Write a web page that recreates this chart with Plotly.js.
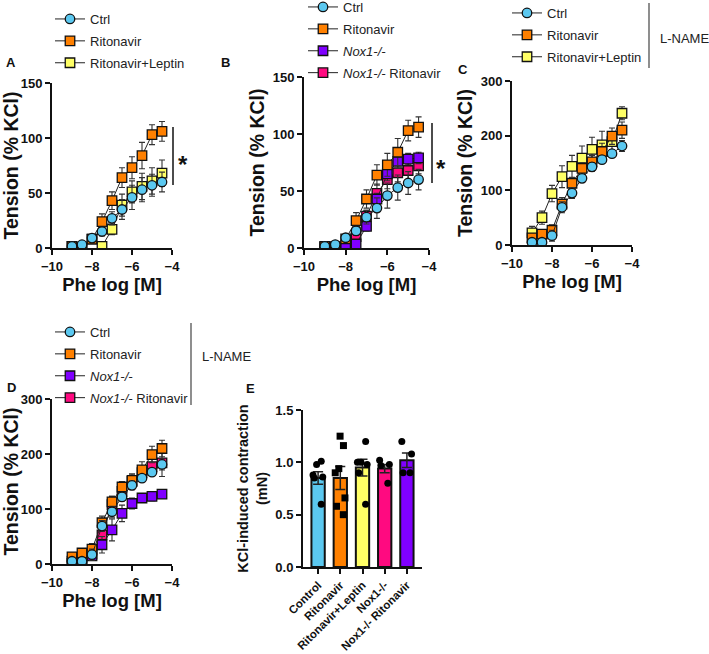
<!DOCTYPE html>
<html>
<head>
<meta charset="utf-8">
<script src="https://cdn.plot.ly/plotly-3.0.1.min.js"></script>
<style>
  html, body { margin: 0; padding: 0; background: #fff; }
  #fig { width: 709px; height: 654px; }
</style>
</head>
<body>
<div id="fig"></div>
<script>
// concentration steps (log M)
const doses = [-9, -8.5, -8, -7.5, -7, -6.5, -6, -5.5, -5, -4.5];

// panel A
const aCtrl = [1.5, 3, 9, 15, 27, 35, 46, 53, 57, 60];
const aCtrlErr = [1, 1, 2, 4, 6, 9, 11, 11, 10, 9];
const aRit = [1.5, 0.5, 8, 24, 43, 64, 73, 84, 103, 106];
const aRitErr = [1, 1, 3, 7, 8, 9, 10, 12, 9, 9];
const aLep = [1.5, 0.5, 8, 1.5, 17, 39, 51, 56, 61, 68];
const aLepErr = [0.5, 0.5, 2, 2, 5, 10, 10, 12, 12, 12];

// panel B
const bNox = [1, 1, 1, 3.5, 19, 43, 65, 76, 78, 79];
const bNoxErr = [1, 1, 1, 3, 4, 5, 6, 6, 5, 5];
const bNoxRit = [1, 1, 2, 10, 28, 48, 60, 66, 68, 72];
const bNoxRitErr = [1, 1, 2, 4, 5, 8, 8, 8, 8, 7];

// panel C (L-NAME)
const cCtrl = [5, 5, 17, 69, 95, 122, 143, 156, 167, 181];
const cCtrlErr = [3, 3, 10, 10, 10, 7, 8, 6, 6, 10];
const cRit = [13, 20, 27, 75, 113, 140, 152, 171, 199, 210];
const cRitErr = [5, 5, 10, 12, 10, 10, 12, 15, 15, 15];
const cLep = [22, 50, 94, 125, 144, 159, 175, 183, 189, 241];
const cLepErr = [12, 12, 15, 20, 20, 22, 22, 25, 15, 12];

// panel D (L-NAME)
const dNox = [1, 3, 15, 35, 62, 92, 110, 120, 123, 127];
const dNoxErr = [3, 3, 5, 15, 20, 15, 10, 8, 8, 5];
const dNoxRit = [5, 5, 18, 53, 108, 132, 150, 166, 177, 184];
const dNoxRitErr = [5, 5, 10, 12, 15, 15, 12, 12, 15, 25];

// panel E
const eCats = ["Control", "Ritonavir", "Ritonavir+Leptin", "Nox1-/-", "Nox1-/- Ritonavir"];
const eMean = [0.85, 0.85, 0.95, 0.94, 1.02];
const eSem = [0.06, 0.11, 0.08, 0.04, 0.07];
const ePts = [
  [1.01, 0.98, 0.88, 0.86, 0.60, 0.85],
  [1.25, 1.16, 0.94, 0.90, 0.66, 0.58, 0.50],
  [1.20, 1.00, 1.00, 0.98, 0.90, 0.60],
  [1.02, 0.98, 0.97, 0.80],
  [1.20, 1.08, 0.90, 0.90]
];

const col = { ctrl: "#5BC8F0", rit: "#FF8000", lep: "#FFFF66", nox: "#8000FF", noxRit: "#FF0A80" };
const eColors = [col.ctrl, col.rit, col.lep, col.noxRit, col.nox];

const W = 709, H = 654;
const px = x => x / W;
const py = y => 1 - y / H;
const FONT = "Liberation Sans, Arial, sans-serif";

let groupId = 0;
function curve(name, rank, y, err, color, symbol, ax, legend) {
  groupId += 1;
  return {
    type: "scatter", mode: "lines+markers", name: name,
    x: doses, y: y,
    xaxis: "x" + ax, yaxis: "y" + ax,
    legend: legend, showlegend: true, legendgroup: "g" + groupId, legendrank: rank,
    line: { color: "#222", width: 1 },
    marker: { color: color, symbol: symbol, size: 9.5, line: { color: "#111", width: 1.3 } },
    error_y: { type: "data", array: err, visible: true, color: "#333", thickness: 1.1, width: 3 }
  };
}

// drawn back to front so Ctrl sits on top; legendrank keeps the legend order
const traces = [
  curve("Ritonavir+Leptin", 3, aLep, aLepErr, col.lep, "square", "", "legend"),
  curve("Ritonavir", 2, aRit, aRitErr, col.rit, "square", "", "legend"),
  curve("Ctrl", 1, aCtrl, aCtrlErr, col.ctrl, "circle", "", "legend"),

  curve("<i>Nox1-/-</i> Ritonavir", 4, bNoxRit, bNoxRitErr, col.noxRit, "square", "2", "legend2"),
  curve("<i>Nox1-/-</i>", 3, bNox, bNoxErr, col.nox, "square", "2", "legend2"),
  curve("Ritonavir", 2, aRit, aRitErr, col.rit, "square", "2", "legend2"),
  curve("Ctrl", 1, aCtrl, aCtrlErr, col.ctrl, "circle", "2", "legend2"),

  curve("Ritonavir+Leptin", 3, cLep, cLepErr, col.lep, "square", "3", "legend3"),
  curve("Ritonavir", 2, cRit, cRitErr, col.rit, "square", "3", "legend3"),
  curve("Ctrl", 1, cCtrl, cCtrlErr, col.ctrl, "circle", "3", "legend3"),

  curve("<i>Nox1-/-</i> Ritonavir", 4, dNoxRit, dNoxRitErr, col.noxRit, "square", "4", "legend4"),
  curve("<i>Nox1-/-</i>", 3, dNox, dNoxErr, col.nox, "square", "4", "legend4"),
  curve("Ritonavir", 2, cRit, cRitErr, col.rit, "square", "4", "legend4"),
  curve("Ctrl", 1, cCtrl, cCtrlErr, col.ctrl, "circle", "4", "legend4"),

  {
    type: "bar", x: eCats, y: eMean, xaxis: "x5", yaxis: "y5", showlegend: false, width: 0.6,
    marker: { color: eColors, line: { color: "#111", width: 2 } },
    error_y: { type: "data", array: eSem, visible: true, color: "#222", thickness: 1.5, width: 5 }
  }
];

// individual points over the bars
ePts.forEach((pts, i) => {
  traces.push({
    type: "box", x: pts.map(() => eCats[i]), y: pts, xaxis: "x5", yaxis: "y5", showlegend: false,
    boxpoints: "all", jitter: 0.9, pointpos: 0, width: 0.6,
    fillcolor: "rgba(0,0,0,0)", line: { color: "rgba(0,0,0,0)", width: 0 },
    marker: { color: "#000", size: 7, symbol: i === 1 ? "square" : "circle" },
    hoveron: "points"
  });
});

const tickFont = { family: FONT, size: 13, color: "#111", weight: "bold" };
const xTitleFont = { family: FONT, size: 18.5, color: "#111", weight: "bold" };
const yTitleFont = { family: FONT, size: 19.5, color: "#111", weight: "bold" };

function xAx(dom, anchor) {
  return {
    domain: [px(dom[0]), px(dom[1])], anchor: anchor, range: [-10, -4], tickvals: [-10, -8, -6, -4],
    showline: true, linewidth: 2, linecolor: "#111", ticks: "outside", ticklen: 5, tickwidth: 2, tickcolor: "#111",
    showgrid: false, zeroline: false, tickfont: tickFont,
    title: { text: "Phe log [M]", font: xTitleFont, standoff: 5 }
  };
}
function yAx(dom, anchor, max, step) {
  return {
    domain: [py(dom[1]), py(dom[0])], anchor: anchor, range: [0, max], dtick: step,
    showline: true, linewidth: 2, linecolor: "#111", ticks: "outside", ticklen: 5, tickwidth: 2, tickcolor: "#111",
    showgrid: false, zeroline: false, tickfont: tickFont,
    title: { text: "Tension (% KCl)", font: yTitleFont, standoff: 3 }
  };
}
function legendAt(x, y) {
  return {
    x: px(x), y: py(y), xanchor: "left", yanchor: "top", bgcolor: "rgba(0,0,0,0)",
    font: { family: FONT, size: 13, color: "#222" }, traceorder: "grouped", tracegroupgap: 2
  };
}
function label(text, x, y, size, extra) {
  return Object.assign({
    text: text, xref: "paper", yref: "paper", x: px(x), y: py(y), xanchor: "center", yanchor: "middle",
    showarrow: false, font: { family: FONT, size: size, color: "#111", weight: "bold" }
  }, extra || {});
}

const layout = {
  width: W, height: H, margin: { l: 0, r: 0, t: 0, b: 0, autoexpand: false },
  paper_bgcolor: "#fff", plot_bgcolor: "#fff", font: { family: FONT },
  barmode: "overlay", boxmode: "overlay",
  xaxis: xAx([52, 172], "y"), yaxis: yAx([83, 248], "x", 150, 50),
  xaxis2: xAx([304, 429], "y2"), yaxis2: yAx([77, 248], "x2", 150, 50),
  xaxis3: xAx([512, 632], "y3"), yaxis3: yAx([81, 245], "x3", 300, 100),
  xaxis4: xAx([52, 172], "y4"), yaxis4: yAx([399, 564], "x4", 300, 100),
  xaxis5: {
    domain: [px(303), px(422)], anchor: "y5", type: "category", range: [-0.68, 4.68],
    showline: true, linewidth: 2, linecolor: "#111", ticks: "outside", ticklen: 5, tickwidth: 2, tickcolor: "#111",
    showgrid: false, zeroline: false, tickangle: -45,
    tickfont: { family: FONT, size: 11.5, color: "#111", weight: "bold" }
  },
  yaxis5: {
    domain: [py(567), py(410)], anchor: "x5", range: [0, 1.5], dtick: 0.5, tickformat: ".1f",
    showline: true, linewidth: 2, linecolor: "#111", ticks: "outside", ticklen: 5, tickwidth: 2, tickcolor: "#111",
    showgrid: false, zeroline: false, tickfont: tickFont,
    title: { text: "KCl-induced contraction<br>(mN)", font: { family: FONT, size: 14.5, color: "#111", weight: "bold" }, standoff: 4 }
  },
  legend: legendAt(50, 4),
  legend2: legendAt(303, -8),
  legend3: legendAt(507, -2),
  legend4: legendAt(50, 317),
  shapes: [
    { type: "line", xref: "paper", yref: "paper", x0: px(173), x1: px(173), y0: py(127), y1: py(185), line: { color: "#111", width: 1.5 } },
    { type: "line", xref: "paper", yref: "paper", x0: px(432), x1: px(432), y0: py(123), y1: py(183), line: { color: "#111", width: 1.5 } },
    { type: "line", xref: "paper", yref: "paper", x0: px(649), x1: px(649), y0: py(3), y1: py(68), line: { color: "#444", width: 1.2 } },
    { type: "line", xref: "paper", yref: "paper", x0: px(191), x1: px(191), y0: py(323), y1: py(405), line: { color: "#444", width: 1.2 } }
  ],
  annotations: [
    label("A", 11, 63, 13), label("B", 225, 63, 13), label("C", 463, 69, 13),
    label("D", 11, 387, 13), label("E", 250, 388, 13),
    label("*", 183, 165, 24), label("*", 441, 168, 24),
    label("L-NAME", 658, 38, 13, { xanchor: "left", font: { family: FONT, size: 13, color: "#222" } }),
    label("L-NAME", 200, 357, 13, { xanchor: "left", font: { family: FONT, size: 13, color: "#222" } })
  ]
};

Plotly.newPlot("fig", traces, layout, { displayModeBar: false, staticPlot: true });
</script>
</body>
</html>
